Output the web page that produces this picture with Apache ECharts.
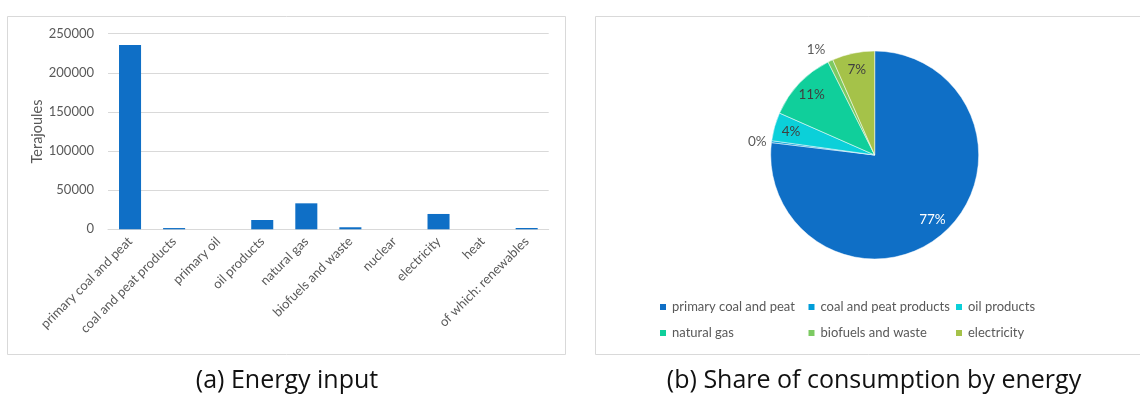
<!DOCTYPE html>
<html>
<head>
<meta charset="utf-8">
<script src="https://cdn.jsdelivr.net/npm/echarts@6/dist/echarts.min.js"></script>
<style>
  html, body { margin: 0; padding: 0; background: #fff; }
  #chart { width: 1140px; height: 396px; }
</style>
</head>
<body>
<div id="chart"></div>
<script>
// Energy input by product (terajoules)
const inputCategories = [
  'primary coal and peat', 'coal and peat products', 'primary oil', 'oil products',
  'natural gas', 'biofuels and waste', 'nuclear', 'electricity', 'heat', 'of which: renewables'
];
const inputTerajoules = [235500, 1600, 0, 11900, 33200, 2600, 0, 19600, 0, 1700];
const yTicks = [0, 50000, 100000, 150000, 200000, 250000];

// Share of final consumption by energy (percent)
const shareNames = [
  'primary coal and peat', 'coal and peat products', 'oil products',
  'natural gas', 'biofuels and waste', 'electricity'
];
const shareValues = [76.9, 0.3, 4.4, 11.0, 0.8, 6.6];
const shareColors = ['#0F6FC6', '#009DD9', '#0BD0D9', '#10CF9B', '#7CCA62', '#A5C249'];

const FONT = 'Lato';
const GREY = '#595959';
const total = shareValues.reduce((a, b) => a + b, 0);
const pct = v => Math.round(v / total * 100) + '%';

const cx = 874.7, cy = 155, R = 104;

// Small slices get their label just outside the pie
const outsideLabel = {
  'coal and peat products': { len: 0, dist: 5 },
  'biofuels and waste': { len: 12, dist: 0 }
};

const pieData = shareNames.map((n, i) => ({
  name: n, value: shareValues[i], itemStyle: { color: shareColors[i] }
}));

const labelData = shareNames.map((n, i) => {
  const o = outsideLabel[n];
  const item = { name: n, value: shareValues[i] };
  if (o) {
    item.label = { position: 'outside', color: GREY, distanceToLabelLine: o.dist };
    item.labelLine = { show: false, length: o.len, length2: 0 };
  } else {
    item.label = { position: 'inside', color: i === 0 ? '#ffffff' : '#404040' };
  }
  return item;
});

// Legend laid out as three columns of two rows
const legendColumns = [[0, 3], [1, 4], [2, 5]];
const legendLefts = [658, 806.5, 954];
const legends = legendColumns.map((col, k) => ({
  data: col.map(i => shareNames[i]),
  orient: 'vertical',
  left: legendLefts[k], top: 299, padding: 0,
  icon: 'rect', itemWidth: 8, itemHeight: 8, itemGap: 10,
  textStyle: { color: GREY, fontSize: 13, fontFamily: FONT, lineHeight: 16 },
  selectedMode: false
}));

const chart = echarts.init(document.getElementById('chart'), null, { renderer: 'canvas' });

chart.setOption({
  animation: false,
  backgroundColor: '#ffffff',
  textStyle: { fontFamily: FONT },
  graphic: [
    { type: 'rect', shape: { x: 7.5, y: 16.5, width: 558, height: 338 },
      style: { fill: 'none', stroke: '#d9d9d9', lineWidth: 1 }, silent: true },
    { type: 'rect', shape: { x: 595.5, y: 16.5, width: 560, height: 338 },
      style: { fill: 'none', stroke: '#d9d9d9', lineWidth: 1 }, silent: true },
    { type: 'text', x: 287, y: 381, style: { text: '(a) Energy input', font: '25px "Open Sans"',
      fill: '#111', align: 'center', verticalAlign: 'middle' } },
    { type: 'text', x: 874, y: 381, style: { text: '(b) Share of consumption by energy', font: '25px "Open Sans"',
      fill: '#111', align: 'center', verticalAlign: 'middle' } }
  ],
  grid: { left: 108, top: 33.7, width: 440.7, height: 195.6, containLabel: false },
  xAxis: {
    type: 'category',
    data: inputCategories,
    axisTick: { show: false },
    axisLine: { lineStyle: { color: '#d9d9d9', width: 1 } },
    axisLabel: { interval: 0, rotate: 45, margin: 10, color: GREY, fontSize: 13, fontFamily: FONT }
  },
  yAxis: {
    type: 'value',
    min: yTicks[0], max: yTicks[yTicks.length - 1], interval: yTicks[1] - yTicks[0],
    name: 'Terajoules', nameLocation: 'middle', nameGap: 63, nameRotate: 90,
    nameTextStyle: { color: GREY, fontSize: 14.5, fontFamily: FONT },
    axisLine: { show: false },
    axisTick: { show: false },
    axisLabel: { margin: 14, color: GREY, fontSize: 13, fontFamily: FONT, formatter: v => String(v) },
    splitLine: { lineStyle: { color: '#d9d9d9', width: 1 } }
  },
  legend: legends,
  series: [
    {
      type: 'bar',
      name: 'Terajoules',
      data: inputTerajoules,
      barWidth: '50%',
      itemStyle: { color: '#0F6FC6' },
      silent: true
    },
    {
      type: 'pie',
      name: 'share',
      center: [cx, cy], radius: R,
      startAngle: 90, clockwise: true,
      data: pieData,
      label: { show: false }, labelLine: { show: false },
      itemStyle: { borderColor: '#ffffff', borderWidth: 0.5 },
      emphasis: { disabled: true },
      silent: true
    },
    {
      type: 'pie',
      name: 'share labels',
      center: [cx, cy], radius: [64, R],
      startAngle: 90, clockwise: true,
      data: labelData,
      avoidLabelOverlap: false,
      itemStyle: { color: 'rgba(0,0,0,0)' },
      label: { show: true, formatter: p => pct(p.value), fontSize: 13.5, fontFamily: FONT },
      labelLine: { show: false },
      emphasis: { disabled: true },
      silent: true
    }
  ]
});
</script>
</body>
</html>
